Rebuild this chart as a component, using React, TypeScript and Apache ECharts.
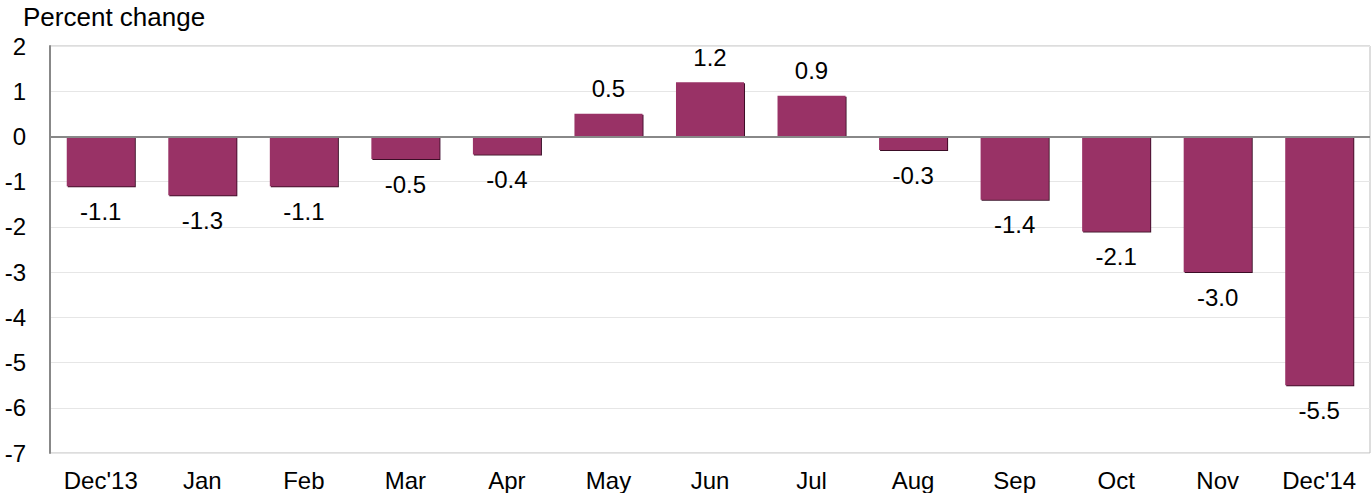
import React, { useEffect, useRef } from "react";
import * as echarts from "echarts";

const categories = ["Dec'13", "Jan", "Feb", "Mar", "Apr", "May", "Jun", "Jul", "Aug", "Sep", "Oct", "Nov", "Dec'14"];
const values = [-1.1, -1.3, -1.1, -0.5, -0.4, 0.5, 1.2, 0.9, -0.3, -1.4, -2.1, -3.0, -5.5];
const yAxisTitle = "Percent change";

export default function App() {
  const ref = useRef<HTMLDivElement>(null);
  useEffect(() => {
    const chart = echarts.init(ref.current!, null, { renderer: "svg" });
    const font = "Liberation Sans, Arial, sans-serif";
    chart.setOption({
      animation: false,
      textStyle: { fontFamily: font },
      graphic: [
        {
          type: "text",
          left: 23,
          top: 4,
          style: { text: yAxisTitle, fontSize: 26, fill: "#000", fontFamily: font },
        },
      ],
      grid: { left: 50, right: 2, top: 46, bottom: 40, show: true, borderColor: "#bbbbbb", borderWidth: 1 },
      xAxis: {
        type: "category",
        data: categories,
        axisLine: { show: false, onZero: false },
        axisTick: { show: false },
        axisLabel: { color: "#000", fontSize: 24, margin: 15, fontFamily: font },
      },
      yAxis: {
        type: "value",
        min: -7,
        max: 2,
        interval: 1,
        axisLine: { show: true, lineStyle: { color: "#888888", width: 2 } },
        axisTick: { show: false },
        axisLabel: { color: "#000", fontSize: 24, margin: 24, fontFamily: font },
        splitLine: { lineStyle: { color: "#e6e6e6", width: 1 } },
      },
      series: [
        {
          type: "bar",
          barWidth: "67%",
          data: values.map((v) => ({
            value: v,
            label: { position: v < 0 ? "bottom" : "top", distance: 13 },
          })),
          itemStyle: {
            color: "#993366",
            shadowColor: "#3a1028",
            shadowOffsetX: 1,
            shadowOffsetY: 1,
            shadowBlur: 0,
          },
          label: {
            show: true,
            fontSize: 24,
            color: "#000",
            fontFamily: font,
            formatter: (p: any) => Number(p.value).toFixed(1),
          },
          markLine: {
            silent: true,
            symbol: "none",
            label: { show: false },
            lineStyle: { color: "#888888", width: 2, type: "solid" },
            data: [{ yAxis: 0 }],
          },
        },
      ],
    });
    return () => chart.dispose();
  }, []);
  return <div ref={ref} style={{ width: 1372, height: 493, position: "absolute", left: 0, top: 0 }} />;
}
